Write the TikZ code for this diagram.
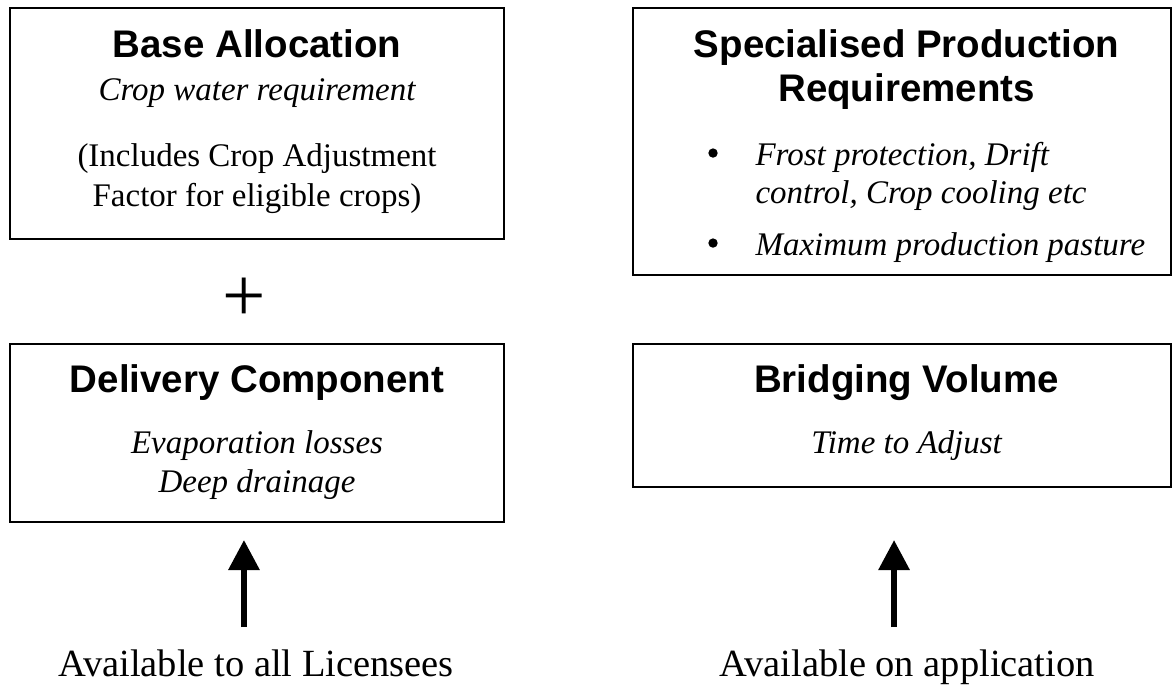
\documentclass[tikz,border=0pt]{standalone}
\usepackage{fontspec}
\setmainfont{Liberation Serif}
\setsansfont{Liberation Sans}
\usepackage{xcolor}
\usepackage{tikz}
\usetikzlibrary{arrows.meta,positioning}

\begin{document}
\begin{tikzpicture}[
    panel/.style={draw=black, line width=0.75pt, inner sep=0pt, outer sep=0pt},
    heading/.style={anchor=base, inner sep=0pt, font=\sffamily\bfseries\fontsize{14}{16}\selectfont},
    bodytext/.style={anchor=base, inner sep=0pt, font=\itshape\fontsize{12}{14}\selectfont},
    plaintext/.style={anchor=base, inner sep=0pt, font=\fontsize{12}{14}\selectfont},
    bigtext/.style={anchor=base, inner sep=0pt, font=\fontsize{14}{16}\selectfont},
    bulletdot/.style={circle, fill=black, inner sep=0pt, minimum size=0.12cm},
    uparrow/.style={line width=2.2pt, -{Triangle[length=0.384cm, width=0.384cm]}}
  ]
  \useasboundingbox (0,0) rectangle (15,8.747);

  % Left column, top: base allocation
  \node[panel, minimum width=6.317cm, minimum height=2.954cm] (base) at (3.287,7.168) {};
  \node[heading] (baseT) at (3.287,8.018) {Base Allocation};
  \node[bodytext] (baseA) at (3.287,7.468) {Crop water requirement};
  \node[plaintext] (baseB) at (3.287,6.624) {(Includes Crop Adjustment};
  \node[plaintext] (baseC) at (3.287,6.100) {Factor for eligible crops)};

  % Plus sign between the two left boxes
  \node[inner sep=0pt, font=\fontsize{28}{28}\selectfont] (plus) at (3.120,4.911) {+};

  % Left column, bottom: delivery component
  \node[panel, minimum width=6.317cm, minimum height=2.276cm] (delivery) at (3.287,3.210) {};
  \node[heading] (deliveryT) at (3.287,3.734) {Delivery Component};
  \node[bodytext] (deliveryA) at (3.287,2.954) {Evaporation losses};
  \node[bodytext] (deliveryB) at (3.287,2.443) {Deep drainage};

  % Right column, top: specialised production
  \node[panel, minimum width=6.88cm, minimum height=3.415cm] (special) at (11.535,6.938) {};
  \node[heading] (specialT) at (11.593,8.018) {Specialised Production};
  \node[heading] (specialU) at (11.593,7.443) {Requirements};
  \node[bulletdot] (dotA) at (9.118,6.790) {};
  \node[bodytext, anchor=base west] (specialA) at (9.655,6.637) {Frost protection, Drift};
  \node[bodytext, anchor=base west] (specialB) at (9.655,6.151) {control, Crop cooling etc};
  \node[bulletdot] (dotB) at (9.118,5.639) {};
  \node[bodytext, anchor=base west] (specialC) at (9.655,5.486) {Maximum production pasture};

  % Right column, bottom: bridging volume
  \node[panel, minimum width=6.88cm, minimum height=1.829cm] (bridging) at (11.535,3.434) {};
  \node[heading] (bridgingT) at (11.593,3.734) {Bridging Volume};
  \node[bodytext] (bridgingA) at (11.593,2.954) {Time to Adjust};

  % Who gets what
  \node[bigtext] (allLic) at (3.274,0.102) {Available to all Licensees};
  \node[bigtext] (onApp) at (11.599,0.102) {Available on application};

  \coordinate (tailAll) at (3.120,0.729);
  \coordinate (tailApp) at (11.433,0.729);
  \draw[uparrow, shorten >=0.23cm] (tailAll) -- (tailAll |- delivery.south);
  \draw[uparrow, shorten >=0.678cm] (tailApp) -- (tailApp |- bridging.south);
\end{tikzpicture}
\end{document}
